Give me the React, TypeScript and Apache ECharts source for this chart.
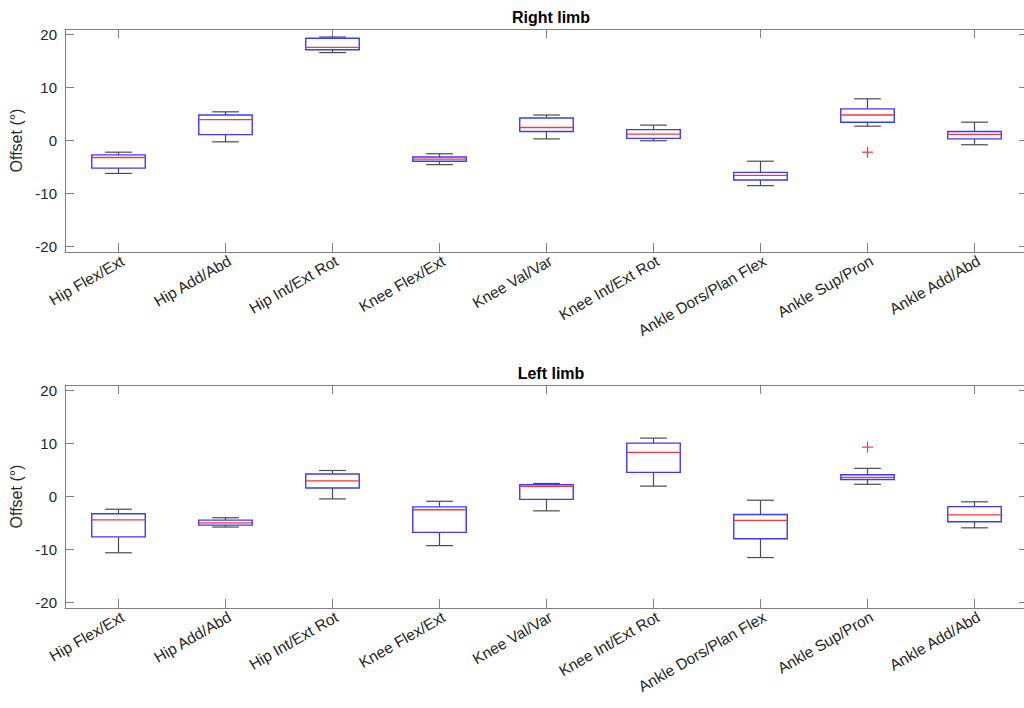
import React, { useEffect, useRef } from "react";
import * as echarts from "echarts";

// Joint categories (shared by both limbs)
const categories = [
  "Hip Flex/Ext",
  "Hip Add/Abd",
  "Hip Int/Ext Rot",
  "Knee Flex/Ext",
  "Knee Val/Var",
  "Knee Int/Ext Rot",
  "Ankle Dors/Plan Flex",
  "Ankle Sup/Pron",
  "Ankle Add/Abd",
];

// Right limb box statistics (degrees)
const rightLow = [-6.2, -0.25, 16.55, -4.55, 0.3, -0.05, -8.5, 2.7, -0.8];
const rightQ1 = [-5.2, 1.1, 17.1, -3.9, 1.7, 0.4, -7.45, 3.45, 0.3];
const rightMedian = [-3.2, 3.95, 17.55, -3.5, 2.45, 1.2, -6.55, 4.8, 1.15];
const rightQ3 = [-2.7, 4.8, 19.25, -3.1, 4.25, 2.05, -6.0, 5.95, 1.7];
const rightHigh = [-2.2, 5.4, 19.5, -2.5, 4.8, 2.9, -3.9, 7.85, 3.45];
const rightOutliers: [number, number][] = [[7, -2.2]];

// Left limb box statistics (degrees)
const leftLow = [-10.6, -5.75, -0.45, -9.25, -2.7, 1.95, -11.5, 2.3, -5.9];
const leftQ1 = [-7.6, -5.4, 1.6, -6.75, -0.55, 4.55, -7.95, 3.2, -4.75];
const leftMedian = [-4.4, -4.95, 2.95, -2.5, 1.9, 8.3, -4.5, 3.6, -3.45];
const leftQ3 = [-3.25, -4.45, 4.25, -1.95, 2.2, 10.05, -3.4, 4.1, -1.9];
const leftHigh = [-2.4, -4.0, 4.9, -0.9, 2.45, 11.0, -0.7, 5.3, -1.0];
const leftOutliers: [number, number][] = [[7, 9.3]];

const panelTitles = ["Right limb", "Left limb"];
const yAxisTitle = "Offset (°)";
const yMin = -21;
const yMax = 21;

const FONT = 'Helvetica, Arial, "Liberation Sans", sans-serif';
const FRAME = "#808080";
const TEXT = "#262626";
const BOX_BLUE = "#3a3aff";
const MEDIAN_RED = "#ff3535";
const WHISKER = "#4a4a4a";

const buildRows = (
  low: number[],
  q1: number[],
  med: number[],
  q3: number[],
  high: number[]
) => categories.map((_, i) => [i, low[i], q1[i], med[i], q3[i], high[i]]);

const renderBox = (_params: any, api: any) => {
  const idx = api.value(0);
  const pLo = api.coord([idx, api.value(1)]);
  const pQ1 = api.coord([idx, api.value(2)]);
  const pMed = api.coord([idx, api.value(3)]);
  const pQ3 = api.coord([idx, api.value(4)]);
  const pHi = api.coord([idx, api.value(5)]);
  const band = api.size([1, 0])[0];
  const bw = band * 0.5;
  const cw = bw * 0.5;
  const x = pMed[0];
  const wStyle = { stroke: WHISKER, lineWidth: 1.2 };
  return {
    type: "group",
    children: [
      { type: "line", shape: { x1: x, y1: pQ3[1], x2: x, y2: pHi[1] }, style: wStyle },
      { type: "line", shape: { x1: x, y1: pQ1[1], x2: x, y2: pLo[1] }, style: wStyle },
      { type: "line", shape: { x1: x - cw / 2, y1: pHi[1], x2: x + cw / 2, y2: pHi[1] }, style: wStyle },
      { type: "line", shape: { x1: x - cw / 2, y1: pLo[1], x2: x + cw / 2, y2: pLo[1] }, style: wStyle },
      {
        type: "rect",
        shape: { x: x - bw / 2, y: pQ3[1], width: bw, height: pQ1[1] - pQ3[1] },
        style: { fill: "none", stroke: BOX_BLUE, lineWidth: 1.4 },
      },
      {
        type: "line",
        shape: { x1: x - bw / 2, y1: pMed[1], x2: x + bw / 2, y2: pMed[1] },
        style: { stroke: MEDIAN_RED, lineWidth: 1.3 },
      },
    ],
  };
};

const renderOutlier = (_params: any, api: any) => {
  const p = api.coord([api.value(0), api.value(1)]);
  const h = 5.5;
  const st = { stroke: MEDIAN_RED, lineWidth: 1.2 };
  return {
    type: "group",
    children: [
      { type: "line", shape: { x1: p[0] - h, y1: p[1], x2: p[0] + h, y2: p[1] }, style: st },
      { type: "line", shape: { x1: p[0], y1: p[1] - h, x2: p[0], y2: p[1] + h }, style: st },
    ],
  };
};

export default function App() {
  const ref = useRef<HTMLDivElement>(null);

  useEffect(() => {
    if (!ref.current) return;
    const chart = echarts.init(ref.current, undefined, { renderer: "svg" });

    const gridTops = [29, 385];
    const gridHeight = 223;
    const panels = [
      { rows: buildRows(rightLow, rightQ1, rightMedian, rightQ3, rightHigh), outliers: rightOutliers },
      { rows: buildRows(leftLow, leftQ1, leftMedian, leftQ3, leftHigh), outliers: leftOutliers },
    ];

    const grid: any[] = [];
    const xAxis: any[] = [];
    const yAxis: any[] = [];
    const series: any[] = [];
    const title: any[] = [];

    panels.forEach((panel, g) => {
      // the axes box runs slightly past the right edge of the visible page
      grid.push({ left: 65, right: 4, top: gridTops[g], height: gridHeight, containLabel: false });
      title.push({
        text: panelTitles[g],
        left: 546,
        top: gridTops[g] - 25,
        textAlign: "center",
        textStyle: { fontFamily: FONT, fontSize: 16, fontWeight: "bold", color: "#000" },
      });
      const xBase = {
        type: "category",
        gridIndex: g,
        data: categories,
        boundaryGap: true,
        axisLine: { show: true, onZero: false, lineStyle: { color: FRAME, width: 1 } },
        axisTick: { show: true, inside: true, alignWithLabel: true, length: 9, lineStyle: { color: FRAME } },
        splitLine: { show: false },
      };
      xAxis.push({
        ...xBase,
        position: "bottom",
        axisLabel: {
          interval: 0,
          rotate: 30,
          margin: 10,
          fontSize: 15.5,
          color: TEXT,
          fontFamily: FONT,
          padding: [0, -5, 0, 0],
        },
      });
      xAxis.push({ ...xBase, position: "top", axisLabel: { show: false } });
      const yBase = {
        type: "value",
        gridIndex: g,
        min: yMin,
        max: yMax,
        splitNumber: 5,
        axisLine: { show: true, onZero: false, lineStyle: { color: FRAME, width: 1 } },
        axisTick: { show: true, inside: true, length: 9, lineStyle: { color: FRAME } },
        splitLine: { show: false },
      };
      yAxis.push({
        ...yBase,
        position: "left",
        name: yAxisTitle,
        nameLocation: "middle",
        nameGap: 41,
        nameTextStyle: { fontFamily: FONT, fontSize: 16, color: TEXT },
        axisLabel: {
          margin: 8,
          fontSize: 15,
          color: TEXT,
          fontFamily: FONT,
          formatter: (v: number) => (v % 10 === 0 ? String(v) : ""),
        },
      });
      yAxis.push({ ...yBase, position: "right", axisLabel: { show: false } });

      series.push({
        type: "custom",
        xAxisIndex: g * 2,
        yAxisIndex: g * 2,
        data: panel.rows,
        encode: { x: 0, y: [1, 2, 3, 4, 5] },
        renderItem: renderBox,
      });
      series.push({
        type: "custom",
        xAxisIndex: g * 2,
        yAxisIndex: g * 2,
        data: panel.outliers,
        encode: { x: 0, y: 1 },
        renderItem: renderOutlier,
      });
    });

    chart.setOption({
      animation: false,
      backgroundColor: "#fff",
      title,
      grid,
      xAxis,
      yAxis,
      series,
    });

    return () => chart.dispose();
  }, []);

  return (
    <div
      style={{ position: "absolute", left: 0, top: 0, width: 1024, height: 708, overflow: "hidden", background: "#fff" }}
    >
      <div ref={ref} style={{ width: 1032, height: 708 }} />
    </div>
  );
}
